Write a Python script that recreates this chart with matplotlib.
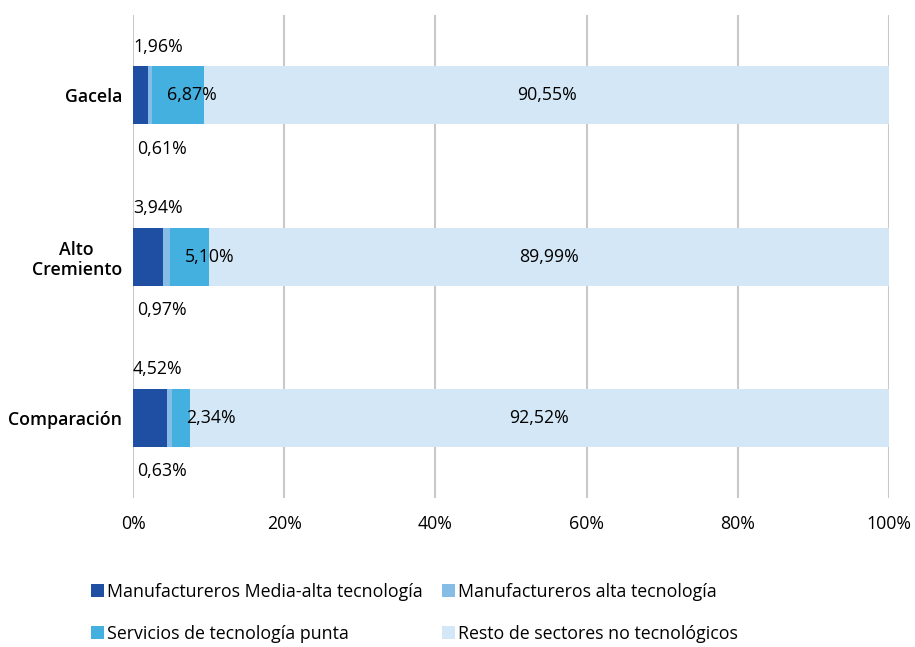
import matplotlib.pyplot as plt
import numpy as np

plt.rcParams['font.family'] = ['Open Sans', 'DejaVu Sans']

categories = ["Gacela", "Alto\nCremiento", "Comparación"]
series_names = ["Manufactureros Media-alta tecnología", "Manufactureros alta tecnología",
                "Servicios de tecnología punta", "Resto de sectores no tecnológicos"]
media_alta = [1.96, 3.94, 4.52]
alta = [0.61, 0.97, 0.63]
servicios = [6.87, 5.10, 2.34]
resto = [90.55, 89.99, 92.52]

colors = ["#1F4FA3", "#86BDE6", "#44B0DF", "#D4E7F6"]

def fmt(v):
    return f"{v:.2f}%".replace(".", ",")

fs = 12.8
fig = plt.figure(figsize=(9.15, 6.47), dpi=100)
ax = fig.add_axes([0.1454, 0.230, 0.8262, 0.747])

y = np.arange(len(categories))
left = np.zeros(len(categories))
bars = []
for vals, name, c in zip([media_alta, alta, servicios, resto], series_names, colors):
    b = ax.barh(y, vals, left=left, height=0.36, color=c, label=name, zorder=3)
    bars.append(b)
    left = left + np.array(vals)

for i in range(len(categories)):
    ax.text(0.0, i - 0.30, fmt(media_alta[i]), ha='left', va='center', fontsize=fs)
    ax.text(0.5, i + 0.33, fmt(alta[i]), ha='left', va='center', fontsize=fs)
    start3 = media_alta[i] + alta[i]
    ax.text(start3 + 1.9, i, fmt(servicios[i]), ha='left', va='center', fontsize=fs)
    start4 = start3 + servicios[i]
    ax.text(start4 + resto[i] / 2, i, fmt(resto[i]), ha='center', va='center', fontsize=fs)

ax.set_xlim(0, 100)
ax.set_ylim(2.5, -0.5)
ax.set_yticks(y)
ax.set_yticklabels(categories, fontweight='semibold', fontsize=fs, multialignment='center')
ax.set_xticks(np.arange(0, 101, 20))
ax.set_xticklabels([f"{t}%" for t in range(0, 101, 20)], fontsize=fs)
ax.tick_params(length=0, pad=8)
ax.tick_params(axis='x', pad=12)
ax.xaxis.grid(True, color="#C9C9C9", linewidth=1.5, zorder=0)
for s in ax.spines.values():
    s.set_visible(False)

order = [0, 2, 1, 3]
fig.legend([bars[k] for k in order], [series_names[k] for k in order],
           loc='upper left', bbox_to_anchor=(0.099, 0.099), ncol=2, frameon=False,
           fontsize=fs, handlelength=0.75, handleheight=0.75, handletextpad=0.15,
           columnspacing=1.1, labelspacing=1.35, borderaxespad=0, borderpad=0)

fig.savefig("out.png", dpi=100)
